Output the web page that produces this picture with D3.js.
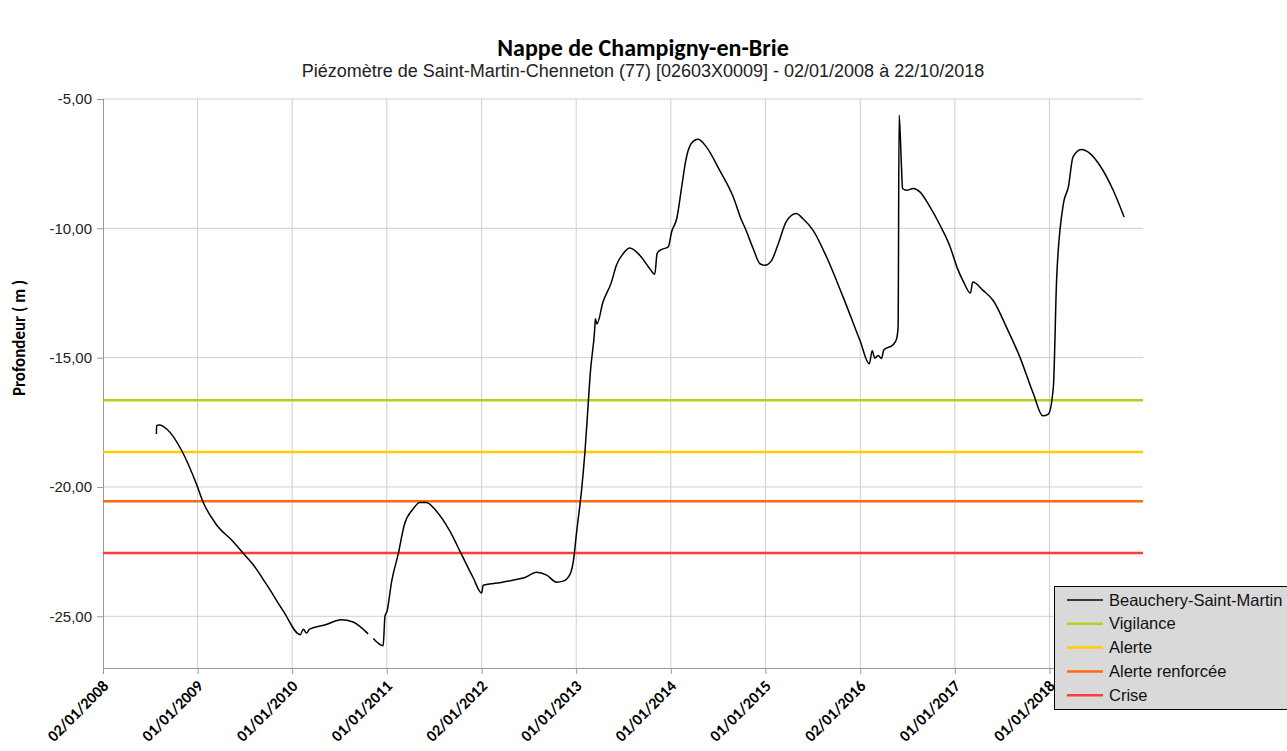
<!DOCTYPE html>
<html>
<head>
<meta charset="utf-8">
<script src="https://cdn.jsdelivr.net/npm/d3@7"></script>
<style>
  body { margin: 0; background: #fff; }
  svg { display: block; }
  .lbl { font-family: "Liberation Sans", Arial, sans-serif; }
  .cal { font-family: Carlito, Lato, "Open Sans", sans-serif; font-weight: bold; }
</style>
</head>
<body>
<svg id="chart" width="1287" height="751"></svg>
<script>
// piezometer readings (depth in m), null = gap in record
var dates = [
  "2008-07-26","2008-07-27","2008-08-07","2008-09-04","2008-11-01","2008-12-28","2009-01-23","2009-03-14",
  "2009-05-17","2009-06-25","2009-08-03","2009-09-24","2009-11-28","2010-02-01","2010-02-13","2010-02-25",
  "2010-03-09","2010-05-12","2010-07-09","2010-08-24","2010-10-21","2010-10-30","2010-11-10","2010-12-18",
  "2010-12-25","2011-01-02","2011-01-20","2011-02-14","2011-03-10","2011-04-12","2011-05-08","2011-06-03",
  "2011-07-11","2011-09-01","2011-10-16","2011-11-30","2012-01-02","2012-01-08","2012-03-12","2012-05-15",
  "2012-06-17","2012-08-01","2012-09-09","2012-10-17","2012-11-12","2012-12-08","2012-12-21","2013-01-03",
  "2013-01-22","2013-02-04","2013-02-17","2013-02-24","2013-03-13","2013-03-16","2013-03-22","2013-04-14",
  "2013-05-17","2013-06-05","2013-07-01","2013-07-27","2013-09-04","2013-10-12","2013-10-31","2013-11-09",
  "2013-11-20","2013-12-22","2014-01-04","2014-01-24","2014-02-12","2014-02-28","2014-03-21","2014-04-16",
  "2014-05-18","2014-07-08","2014-08-30","2014-10-01","2014-10-13","2014-11-15","2014-12-11","2014-12-30",
  "2015-01-25","2015-02-20","2015-03-22","2015-04-30","2015-05-25","2015-07-04","2015-08-25","2015-10-28",
  "2016-01-01","2016-02-06","2016-02-17","2016-02-27","2016-03-11","2016-03-24","2016-04-02","2016-05-08",
  "2016-05-21","2016-05-27","2016-05-31","2016-06-09","2016-06-13","2016-06-29","2016-07-24","2016-08-19",
  "2016-09-27","2016-11-05","2016-12-14","2017-01-09","2017-02-04","2017-03-02","2017-03-11","2017-04-20",
  "2017-05-29","2017-07-19","2017-09-09","2017-10-31","2017-12-06","2017-12-28","2018-01-16","2018-01-29",
  "2018-02-24","2018-03-15","2018-04-02","2018-05-04","2018-06-06","2018-07-14","2018-09-04","2018-10-16"
];
var depths = [
  -17.95,-17.62,-17.6,-17.76,-18.6,-19.9,-20.6,-21.45,
  -22.1,-22.55,-23.0,-23.77,-24.8,-25.71,-25.5,-25.65,
  -25.5,-25.32,-25.13,-25.22,-25.68,null,-25.86,-26.14,
  -25.0,-24.8,-23.64,-22.6,-21.45,-20.86,-20.6,-20.6,
  -20.93,-21.7,-22.6,-23.5,-24.1,-23.8,-23.7,-23.58,
  -23.5,-23.3,-23.41,-23.68,-23.64,-23.38,-22.87,-21.7,
  -20.09,-18.6,-16.67,-15.63,-13.95,-13.5,-13.7,-12.86,
  -12.08,-11.43,-10.98,-10.76,-11.05,-11.56,-11.78,-10.98,
  -10.85,-10.72,-10.14,-9.62,-8.4,-7.36,-6.72,-6.56,
  -6.85,-7.75,-8.79,-9.69,-9.95,-10.79,-11.37,-11.43,
  -11.24,-10.59,-9.75,-9.43,-9.62,-10.08,-11.11,-12.66,
  -14.34,-15.24,-14.73,-15.02,-14.92,-15.03,-14.7,-14.5,
  -14.28,-13.82,-5.62,-7.62,-8.46,-8.53,-8.46,-8.59,
  -9.17,-9.88,-10.72,-11.5,-12.08,-12.5,-12.08,-12.4,
  -12.79,-13.82,-14.98,-16.4,-17.25,-17.18,-16.15,-11.89,
  -9.04,-8.4,-7.24,-6.95,-7.1,-7.56,-8.53,-9.56
];

// threshold levels
var levelNames = ["Vigilance", "Alerte", "Alerte renforcée", "Crise"];
var levelValues = [-16.65, -18.65, -20.55, -22.55];
var levelColors = ["#b0d31a", "#ffcc00", "#ff6a0e", "#ff3b3b"];

var tickDates = ["2008-01-02","2009-01-01","2010-01-01","2011-01-01","2012-01-02","2013-01-01",
                 "2014-01-01","2015-01-01","2016-01-02","2017-01-01","2018-01-01"];
var tickLabels = ["02/01/2008","01/01/2009","01/01/2010","01/01/2011","02/01/2012","01/01/2013",
                  "01/01/2014","01/01/2015","02/01/2016","01/01/2017","01/01/2018"];
var yTicks = [-5, -10, -15, -20, -25];

var parse = d3.timeParse("%Y-%m-%d");
var svg = d3.select("#chart");

var plotL = 103, plotR = 1143, plotT = 99, plotB = 668;

var x = d3.scaleTime()
  .domain([parse("2008-01-02"), parse("2018-12-28")])
  .range([plotL, plotR]);
var y = d3.scaleLinear()
  .domain([-27, -5])
  .range([plotB, plotT]);

// titles
svg.append("text").attr("class", "cal")
  .attr("x", 643).attr("y", 56)
  .attr("text-anchor", "middle").attr("font-size", 24)
  .text("Nappe de Champigny-en-Brie");
svg.append("text").attr("class", "lbl")
  .attr("x", 643).attr("y", 77)
  .attr("text-anchor", "middle").attr("font-size", 18).attr("fill", "#222")
  .text("Piézomètre de Saint-Martin-Chenneton (77) [02603X0009] - 02/01/2008 à 22/10/2018");

// grid
svg.append("g").selectAll("line").data(yTicks).enter().append("line")
  .attr("x1", plotL).attr("x2", plotR)
  .attr("y1", function (d) { return y(d); }).attr("y2", function (d) { return y(d); })
  .attr("stroke", "#cfcfcf").attr("stroke-width", 1);
svg.append("g").selectAll("line").data(tickDates.slice(1)).enter().append("line")
  .attr("x1", function (d) { return x(parse(d)); }).attr("x2", function (d) { return x(parse(d)); })
  .attr("y1", plotT).attr("y2", plotB)
  .attr("stroke", "#cfcfcf").attr("stroke-width", 1);

// axes
var yAxis = d3.axisLeft(y).tickValues(yTicks).tickSize(6).tickPadding(5)
  .tickFormat(function (d) { return d.toFixed(2).replace(".", ","); });
var gy = svg.append("g").attr("transform", "translate(" + plotL + ",0)").call(yAxis);
gy.select(".domain").attr("stroke", "#999").attr("d", "M0.5," + plotT + "V" + (plotB + 6));
gy.selectAll(".tick line").attr("stroke", "#999");
gy.selectAll(".tick text").attr("class", "lbl").attr("font-size", 15).attr("fill", "#222");

var xAxis = d3.axisBottom(x).tickValues(tickDates.map(parse)).tickSize(6)
  .tickFormat(function (d, i) { return tickLabels[i]; });
var gx = svg.append("g").attr("transform", "translate(0," + plotB + ")").call(xAxis);
gx.select(".domain").attr("stroke", "#999").attr("d", "M" + plotL + ",0.5H" + plotR);
gx.selectAll(".tick line").attr("stroke", "#999");
gx.selectAll(".tick text").attr("class", "cal").attr("font-size", 16).attr("fill", "#000")
  .attr("text-anchor", "end").attr("dy", 0).attr("y", 0)
  .attr("transform", "translate(6,19) rotate(-45)");

svg.append("text").attr("class", "cal")
  .attr("transform", "translate(25,338) rotate(-90)")
  .attr("text-anchor", "middle").attr("font-size", 17)
  .text("Profondeur ( m )");

// threshold lines
svg.append("g").selectAll("line").data(levelValues).enter().append("line")
  .attr("x1", plotL).attr("x2", plotR)
  .attr("y1", function (d) { return y(d); }).attr("y2", function (d) { return y(d); })
  .attr("stroke", function (d, i) { return levelColors[i]; })
  .attr("stroke-width", 2.5);

// measured series
var series = dates.map(function (d, i) { return { date: parse(d), v: depths[i] }; });
var line = d3.line()
  .defined(function (d) { return d.v !== null; })
  .curve(d3.curveMonotoneX)
  .x(function (d) { return x(d.date); })
  .y(function (d) { return y(d.v); });
svg.append("path").datum(series)
  .attr("d", line)
  .attr("fill", "none").attr("stroke", "#000").attr("stroke-width", 1.5)
  .attr("stroke-linejoin", "round");

// legend
var legNames = ["Beauchery-Saint-Martin"].concat(levelNames);
var legColors = ["#000"].concat(levelColors);
var leg = svg.append("g").attr("transform", "translate(1054,586)");
leg.append("rect").attr("x", 0.5).attr("y", 0.5).attr("width", 250).attr("height", 123)
  .attr("fill", "#d9d9d9").attr("stroke", "#000");
var rows = leg.selectAll("g.row").data(legNames).enter().append("g")
  .attr("transform", function (d, i) { return "translate(0," + (14 + i * 23.8) + ")"; });
rows.append("line").attr("x1", 13).attr("x2", 49).attr("y1", 0).attr("y2", 0)
  .attr("stroke", function (d, i) { return legColors[i]; })
  .attr("stroke-width", function (d, i) { return i === 0 ? 1.5 : 2.5; });
rows.append("text").attr("class", "lbl").attr("x", 55).attr("y", 5.5)
  .attr("font-size", 16.5).attr("fill", "#111")
  .text(function (d) { return d; });
</script>
</body>
</html>
